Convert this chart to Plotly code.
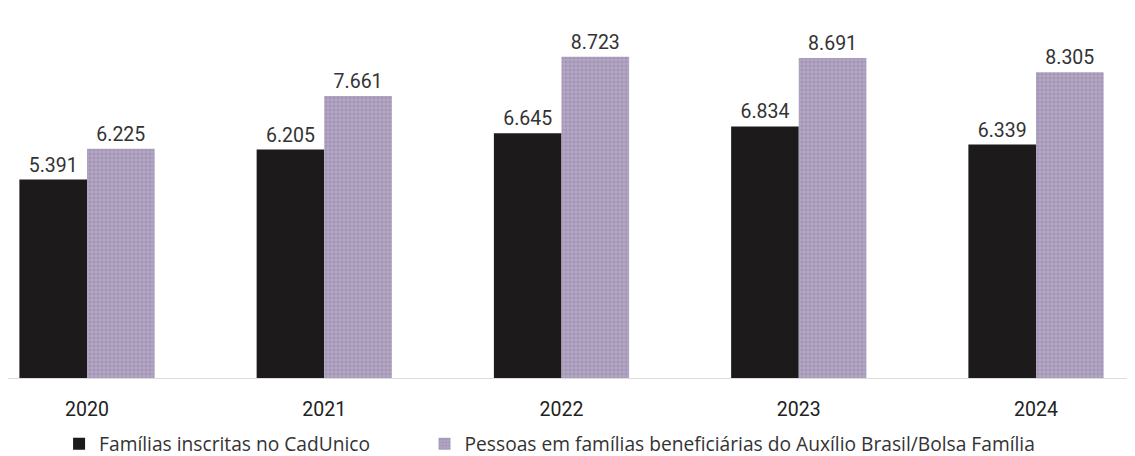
import plotly.graph_objects as go

anos = ["2020", "2021", "2022", "2023", "2024"]
familias_cadunico = [5391, 6205, 6645, 6834, 6339]
pessoas_beneficiarias = [6225, 7661, 8723, 8691, 8305]

nome_familias = "Famílias inscritas no CadUnico"
nome_pessoas = "Pessoas em famílias beneficiárias do Auxílio Brasil/Bolsa Família"

label_font = dict(family="Roboto", size=19.5, color="#333333")
legend_font = dict(family="Open Sans", size=19.2, color="#333333")

fig = go.Figure()
fig.add_trace(go.Bar(
    x=anos, y=familias_cadunico, name=nome_familias,
    marker=dict(color="#1d1a1b", line=dict(width=0)),
    texttemplate="%{y:,}", textposition="outside",
    textfont=label_font, cliponaxis=False,
    legend="legend",
))
fig.add_trace(go.Bar(
    x=anos, y=pessoas_beneficiarias, name=nome_pessoas,
    marker=dict(color="#a999b8", line=dict(width=0),
                pattern=dict(shape=".", fgcolor="#9a84a6", bgcolor="#b0a6c4", size=4, solidity=0.45)),
    texttemplate="%{y:,}", textposition="outside",
    textfont=label_font, cliponaxis=False,
    legend="legend2",
))

fig.update_layout(
    width=1135, height=456,
    margin=dict(l=0, r=0, t=0, b=86, autoexpand=False),
    paper_bgcolor="white", plot_bgcolor="white",
    separators=",.",
    barmode="group", bargap=0.43, bargroupgap=0,
    showlegend=True,
    legend=dict(orientation="h", x=0.045, y=-0.178, xanchor="left", yanchor="middle",
                font=legend_font, itemwidth=30, bgcolor="rgba(0,0,0,0)"),
    legend2=dict(orientation="h", x=0.367, y=-0.178, xanchor="left", yanchor="middle",
                 font=legend_font, itemwidth=30, bgcolor="rgba(0,0,0,0)"),
    xaxis=dict(type="category", range=[-0.333, 4.451], showgrid=False, zeroline=False,
               showline=True, linecolor="#dddddd", linewidth=1,
               ticks="", ticklabelstandoff=14,
               tickfont=dict(family="Roboto", size=19.5, color="#222222")),
    yaxis=dict(range=[0, 10050], visible=False, showgrid=False, zeroline=False),
)

fig.write_html("out.html")
